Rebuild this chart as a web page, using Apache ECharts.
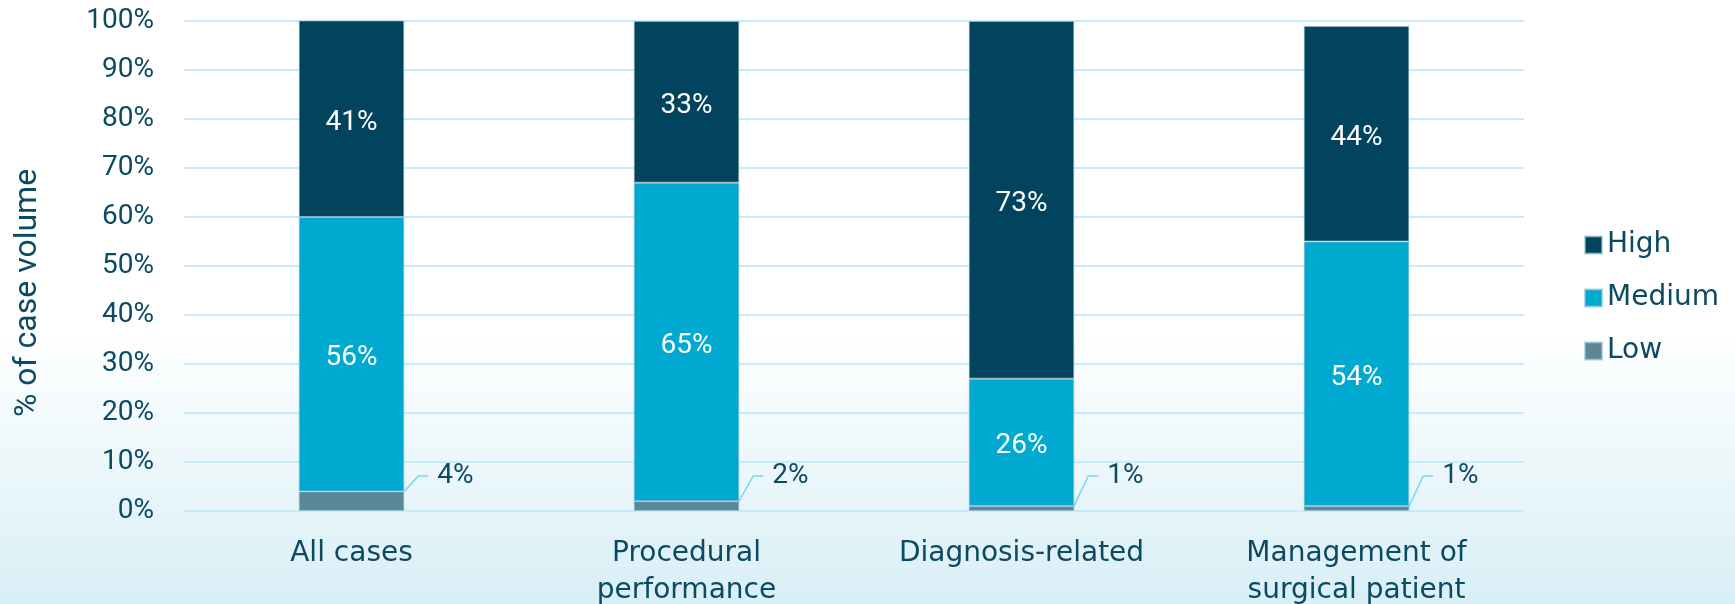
<!DOCTYPE html>
<html>
<head>
<meta charset="utf-8">
<script src="https://cdn.jsdelivr.net/npm/echarts@6/dist/echarts.min.js"></script>
<style>
  html, body { margin: 0; padding: 0; background: #ffffff; }
  #chart { width: 1735px; height: 604px; }
</style>
</head>
<body>
<div id="chart"></div>
<script>
// Share of case volume by complexity level, per case category
const categories = ['All cases', 'Procedural\nperformance', 'Diagnosis-related', 'Management of\nsurgical patient'];
const lowValues = [4, 2, 1, 1];
const mediumValues = [56, 65, 26, 54];
const highValues = [41, 33, 73, 44];
const legendNames = ['High', 'Medium', 'Low'];

const TEXT_COLOR = '#0c4a63';
const WORD_FONT = 'DejaVu Sans';
const NUM_FONT = 'Roboto';
const BAR_BORDER = 'rgba(150,190,205,0.6)';

const chart = echarts.init(document.getElementById('chart'), null, { renderer: 'canvas' });

const insideLabel = {
  show: true,
  position: 'inside',
  offset: [0, 4],
  formatter: '{c}%',
  color: '#ffffff',
  fontFamily: NUM_FONT,
  fontSize: 28
};

chart.setOption({
  animation: false,
  backgroundColor: new echarts.graphic.LinearGradient(0, 0, 0, 1, [
    { offset: 0, color: '#ffffff' },
    { offset: 0.55, color: '#ffffff' },
    { offset: 1, color: '#d8eff6' }
  ]),
  grid: {
    left: 184, right: 211, top: 21, bottom: 93,
    containLabel: false,
    outerBoundsMode: 'none'
  },
  legend: {
    orient: 'vertical',
    left: 1579,
    top: 225,
    icon: 'rect',
    itemWidth: 17,
    itemHeight: 17,
    itemGap: 23,
    data: legendNames,
    textStyle: { fontFamily: WORD_FONT, fontSize: 28, color: TEXT_COLOR, lineHeight: 30 }
  },
  xAxis: {
    type: 'category',
    data: categories,
    axisLine: { show: false },
    axisTick: { show: false },
    axisLabel: {
      interval: 0,
      margin: 24,
      fontFamily: WORD_FONT,
      fontSize: 28,
      lineHeight: 37,
      color: TEXT_COLOR
    }
  },
  yAxis: {
    type: 'value',
    min: 0,
    max: 100,
    interval: 10,
    name: '% of case volume',
    nameLocation: 'middle',
    nameRotate: 90,
    nameGap: 140,
    nameTextStyle: {
      fontFamily: NUM_FONT,
      fontSize: 32,
      color: TEXT_COLOR,
      padding: [0, 54, 0, 0]
    },
    axisLine: { show: false },
    axisTick: { show: false },
    axisLabel: {
      formatter: '{value}%',
      margin: 30,
      fontFamily: NUM_FONT,
      fontSize: 28,
      color: TEXT_COLOR
    },
    splitLine: { lineStyle: { color: '#c6ecfb', width: 2 } }
  },
  series: [
    {
      name: 'Low',
      type: 'bar',
      stack: 'total',
      barWidth: '31.5%',
      data: lowValues,
      itemStyle: { color: '#5b8799', borderColor: BAR_BORDER, borderWidth: 1 },
      label: {
        show: true,
        position: 'right',
        formatter: '{c}%',
        color: TEXT_COLOR,
        fontFamily: NUM_FONT,
        fontSize: 28,
        padding: [0, 0, 0, 9],
        backgroundColor: 'rgba(0,0,0,0)'
      },
      labelLine: { show: true, length2: 10, lineStyle: { color: '#7fd3f3', width: 1.5 } },
      labelLayout: function (p) {
        return {
          x: p.rect.x + p.rect.width + 24,
          y: p.rect.y + p.rect.height - 35,
          align: 'left',
          verticalAlign: 'middle'
        };
      }
    },
    {
      name: 'Medium',
      type: 'bar',
      stack: 'total',
      barWidth: '31.5%',
      data: mediumValues,
      itemStyle: { color: '#00a9d0', borderColor: BAR_BORDER, borderWidth: 1 },
      label: insideLabel
    },
    {
      name: 'High',
      type: 'bar',
      stack: 'total',
      barWidth: '31.5%',
      data: highValues,
      itemStyle: { color: '#02445e', borderColor: BAR_BORDER, borderWidth: 1 },
      label: insideLabel
    }
  ]
});
</script>
</body>
</html>
